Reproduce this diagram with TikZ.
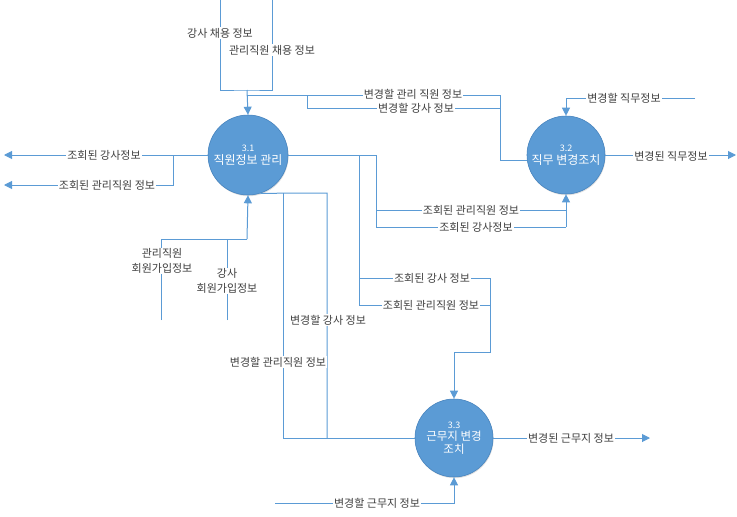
\documentclass[tikz,border=0pt]{standalone}
\usepackage{fontspec}
\setmainfont{Noto Sans CJK KR}
\usetikzlibrary{arrows.meta,shadows}
\definecolor{flow}{RGB}{91,155,213}
\definecolor{proc}{RGB}{91,155,213}
\definecolor{procedge}{RGB}{72,132,190}
\definecolor{txt}{RGB}{64,64,64}
\tikzset{
  process/.style={circle, fill=proc, draw=procedge, line width=0.6pt,
    minimum size=78pt, inner sep=0pt, text=white, align=center,
    font=\fontsize{12}{14}\selectfont,
    drop shadow={opacity=0.25, shadow xshift=0.6pt, shadow yshift=-1.2pt}},
  flowline/.style={draw=flow, line width=1pt},
  arr/.style={flowline, -{Triangle[length=8pt,width=8pt]}},
  lbl/.style={fill=white, inner sep=1pt, text=txt, align=center,
    font=\fontsize{11}{15}\selectfont},
}
\newcommand{\pnum}[1]{{\fontsize{9}{10}\selectfont #1}}
\begin{document}
\begin{tikzpicture}[x=1pt,y=-1pt]
\useasboundingbox (0,0) rectangle (737,517);

% processes
\node[process, minimum size=80pt] (c31) at (248,155) {\pnum{3.1}\\[-1pt]직원정보 관리};
\node[process] (c32) at (566,155) {\pnum{3.2}\\[-1pt]직무 변경조치};
\node[process, font=\fontsize{11.5}{13}\selectfont] (c33) at (454,438) {\pnum{3.3}\\[-1pt]근무지 변경\\조치};

% hiring inputs from the top
\coordinate (hA) at (220,0);
\coordinate (hB) at (272,0);
\coordinate (hJ) at (247,90);
\draw[flowline] (hA) |- (hJ) -| (hB);
\draw[arr] (hJ) -- (c31.north);

% change requests routed to 3.2
\coordinate (mS) at (247,95);
\coordinate (mT) at (307,95);
\coordinate (mC) at (500,95);
\draw[flowline] (mS) -- (mC) |- (c32.188);
\draw[flowline] (mT) |- (mC |- 0,108);

% job change input and output
\coordinate (jIn) at (695,98);
\coordinate (jOut) at (736,155);
\draw[arr] (jIn) -| (c32.north);
\draw[arr] (c32.east) -- (jOut);

% query outputs to the left
\coordinate (qL1) at (4,155);
\coordinate (qB) at (173,155);
\coordinate (qL2) at (4,185);
\draw[arr] (c31.west) -- (qL1);
\draw[arr] (qB) |- (qL2);

% membership inputs from below
\coordinate (rA) at (161,320);
\coordinate (rB) at (227,320);
\coordinate (rJ) at (247,239);
\draw[flowline] (rA) |- (rJ);
\draw[flowline] (rB) -- (rB |- rJ);
\draw[arr] (rJ) -- (c31.south);

% queries from 3.1 to 3.2
\coordinate (sA) at (376,155);
\coordinate (sB) at (376,227);
\coordinate (sC) at (566,227);
\draw[flowline] (c31.east) -- (sA) -- (sB) -- (sC);
\draw[arr] (sC) -- (c32.south);
\draw[flowline] (sA |- 0,210) -- (sC |- 0,210);

% queries from 3.1 to 3.3
\coordinate (tA) at (359,155);
\coordinate (tB) at (359,305);
\coordinate (tC) at (490,278);
\coordinate (tD) at (490,352);
\draw[flowline] (tA) -- (tB) -- (tC |- tB);
\draw[flowline] (tA |- tC) -- (tC) -- (tD) -- (c33.north |- tD);
\draw[arr] (c33.north |- tD) -- (c33.north);

% change requests from 3.3 back to 3.1
\coordinate (uA) at (283,193);
\coordinate (uB) at (327,193);
\draw[flowline] (c31.-72) -- (uB) -- (uB |- c33.west);
\draw[flowline] (uA) -- (uA |- c33.west) -- (c33.west);

% workplace input and output
\coordinate (wIn) at (275,503);
\coordinate (wOut) at (650,438);
\draw[arr] (wIn) -| (c33.south);
\draw[arr] (c33.east) -- (wOut);

% flow labels
\node[lbl] (l1) at (220,33) {강사 채용 정보};
\node[lbl] (l2) at (272,50) {관리직원 채용 정보};
\node[lbl] (l3) at (413,94) {변경할 관리 직원 정보};
\node[lbl] (l4) at (416,108) {변경할 강사 정보};
\node[lbl] (l5) at (624,98) {변경할 직무정보};
\node[lbl] (l6) at (671,156) {변경된 직무정보};
\node[lbl] (l7) at (104,155) {조회된 강사정보};
\node[lbl] (l8) at (107,185) {조회된 관리직원 정보};
\node[lbl] (l9) at (162,261) {관리직원\\회원가입정보};
\node[lbl] (l10) at (227,281) {강사\\회원가입정보};
\node[lbl] (l11) at (471,210) {조회된 관리직원 정보};
\node[lbl] (l12) at (476,227) {조회된 강사정보};
\node[lbl] (l13) at (328,320) {변경할 강사 정보};
\node[lbl] (l14) at (278,362) {변경할 관리직원 정보};
\node[lbl] (l15) at (432,278) {조회된 강사 정보};
\node[lbl] (l16) at (431,305) {조회된 관리직원 정보};
\node[lbl] (l17) at (377,503) {변경할 근무지 정보};
\node[lbl] (l18) at (571,438) {변경된 근무지 정보};
\end{tikzpicture}
\end{document}
